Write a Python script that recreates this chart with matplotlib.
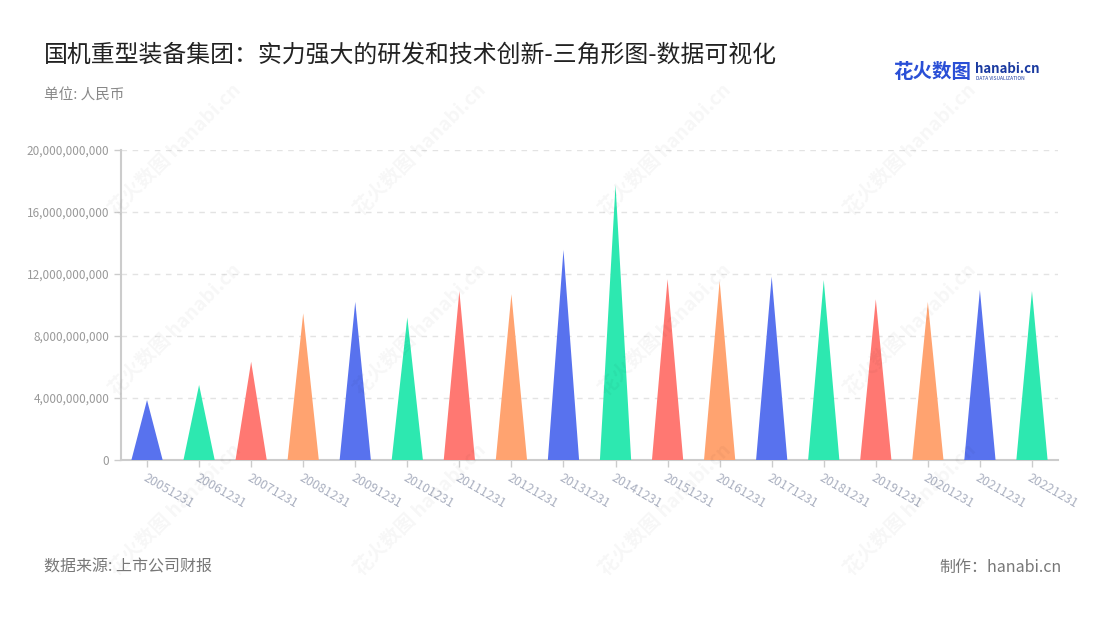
import matplotlib
matplotlib.use("Agg")
import matplotlib.pyplot as plt
from matplotlib.ticker import FuncFormatter, MultipleLocator

plt.rcParams['font.family'] = ['Noto Sans CJK SC', 'DejaVu Sans']

categories = ["20051231", "20061231", "20071231", "20081231", "20091231", "20101231",
              "20111231", "20121231", "20131231", "20141231", "20151231", "20161231",
              "20171231", "20181231", "20191231", "20201231", "20211231", "20221231"]
values = [3.87e9, 4.84e9, 6.34e9, 9.46e9, 10.2e9, 9.2e9,
          10.9e9, 10.7e9, 13.55e9, 17.74e9, 11.67e9, 11.55e9,
          11.83e9, 11.61e9, 10.37e9, 10.2e9, 10.97e9, 10.9e9]
palette = ["#5872EE", "#2DE8B0", "#FF7872", "#FFA370"]

title = "国机重型装备集团：实力强大的研发和技术创新-三角形图-数据可视化"
subtitle = "单位: 人民币"
source = "数据来源: 上市公司财报"
maker = "制作：hanabi.cn"

W, H = 1100, 620
fig = plt.figure(figsize=(W / 100, H / 100), dpi=100)
fig.patch.set_facecolor("white")

# watermarks
for wx in [175, 420, 665, 910]:
    for wy in [150, 330, 510]:
        fig.text(wx / W, 1 - wy / H, "花火数图 hanabi.cn", rotation=45, fontsize=14,
                 color="#000000", alpha=0.035, ha="center", va="center", fontweight="bold")

ax = fig.add_axes([121 / W, (H - 460) / H, 937 / W, 310 / H])
ax.set_facecolor("none")
w = 0.6
for i, v in enumerate(values):
    ax.fill([i - w / 2, i, i + w / 2], [0, v, 0], color=palette[i % 4], lw=0, zorder=3)

ax.set_xlim(-0.5, len(categories) - 0.5)
ax.set_ylim(0, 20e9)
ax.yaxis.set_major_locator(MultipleLocator(4e9))
ax.yaxis.set_major_formatter(FuncFormatter(lambda v, p: f"{int(round(v)):,}"))
ax.grid(axis="y", color="#e3e3e3", linestyle=(0, (4, 4)), linewidth=1)
ax.set_axisbelow(True)
for s in ["top", "right"]:
    ax.spines[s].set_visible(False)
for s in ["left", "bottom"]:
    ax.spines[s].set_color("#cccccc")
    ax.spines[s].set_linewidth(1.5)
ax.tick_params(axis="y", colors="#cccccc", labelcolor="#999999", labelsize=8.5, length=5, width=1)
ax.tick_params(axis="x", colors="#cccccc", labelcolor="#aab0c0", labelsize=9, length=5, width=1)
ax.set_xticks(range(len(categories)))
ax.set_xticklabels(categories, rotation=-30, ha="left", va="top", rotation_mode="anchor")

fig.text(44 / W, 1 - 55 / H, title, fontsize=17.2, color="#222222", ha="left", va="center")
fig.text(44 / W, 1 - 96 / H, subtitle, fontsize=10.5, color="#888888", ha="left", va="center")
fig.text(44 / W, 1 - 567 / H, source, fontsize=11.5, color="#777777", ha="left", va="center")
fig.text(1062 / W, 1 - 567 / H, maker, fontsize=11.5, color="#777777", ha="right", va="center")

# logo
fig.text(893 / W, 1 - 72 / H, "花火数图", fontsize=14, color="#2a4fd6", fontweight="bold", ha="left", va="center")
fig.text(975 / W, 1 - 69 / H, "hanabi.cn", fontsize=9.5, color="#1a3aa0", fontweight="bold", ha="left", va="center")
fig.text(976 / W, 1 - 79 / H, "DATA VISUALIZATION", fontsize=3.5, color="#1a3aa0", ha="left", va="center")

fig.savefig("out.png", dpi=100)
